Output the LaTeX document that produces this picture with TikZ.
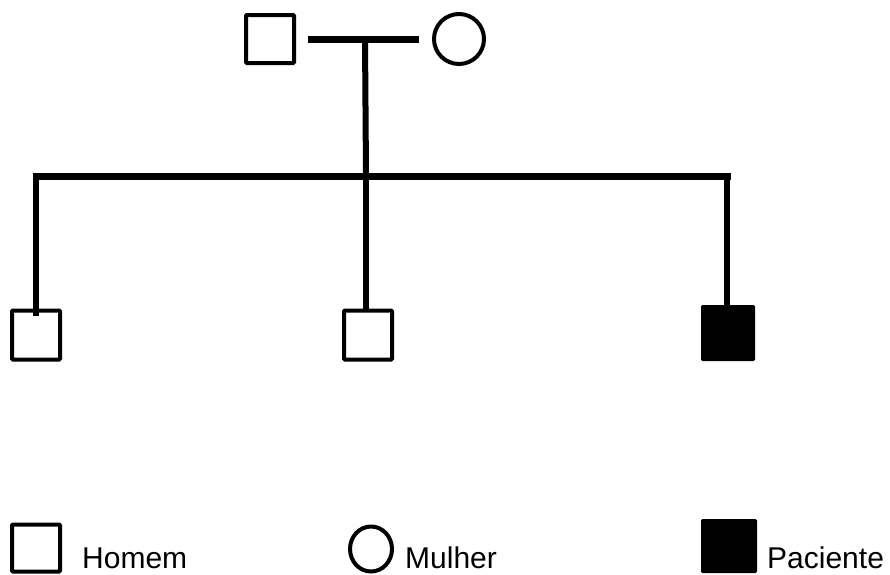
\documentclass[tikz,border=0pt]{standalone}
\usepackage{fontspec}
\setmainfont{Liberation Sans}
\usetikzlibrary{shapes.geometric}
\tikzset{
  male/.style={draw, line width=4pt, rectangle, rounded corners=1pt, inner sep=0pt, minimum width=48pt, minimum height=48pt},
  female/.style={draw, line width=4pt, circle, inner sep=0pt, minimum size=50pt},
  patient/.style={draw, fill=black, line width=1pt, rectangle, rounded corners=1pt, inner sep=0pt, minimum width=53pt, minimum height=55pt},
  link/.style={line width=7pt},
  desc/.style={line width=6pt},
  lbl/.style={anchor=base west, inner sep=0pt, font=\fontsize{30}{36}\selectfont}
}
\begin{document}
\begin{tikzpicture}[x=1pt,y=-1pt]
\useasboundingbox (0,0) rectangle (890,574);
% parents
\node[male] (f) at (270,39) {};
\node[female] (m) at (459,39) {};
\draw[link, shorten <=12pt, shorten >=13pt] (f.east) -- (m.west);
\coordinate (mid) at (365,38);
\coordinate (sibL) at (36,176);
\coordinate (sibR) at (727,176);
\coordinate (sibM) at (366,176);
% children
\node[male, minimum width=48pt, minimum height=49pt] (c1) at (36,335) {};
\node[male, minimum width=48pt, minimum height=49pt] (c2) at (368,335) {};
\node[patient] (c3) at (728,333) {};
\draw[link, line cap=rect] (sibL) -- (sibR);
\draw[desc] (mid) -- (sibM);
\draw[desc] (sibM) -- ([yshift=-2pt]c2.north -| sibM);
\draw[desc, line cap=rect] (sibL) -- ([yshift=-4pt]c1.north -| sibL);
\draw[desc, line cap=rect] (sibR) -- (c3.north -| sibR);
% legend
\node[male, minimum width=48pt, minimum height=47pt] (l1) at (36,548) {};
\node[lbl] (t1) at (82,568) {Homem};
\node[ellipse, draw, line width=4pt, inner sep=0pt, minimum width=42pt, minimum height=45pt] (l2) at (371,549) {};
\node[lbl] (t2) at (405,568) {Mulher};
\node[patient, minimum width=55pt, minimum height=53pt] (l3) at (729,546) {};
\node[lbl] (t3) at (767,568) {Paciente};
\end{tikzpicture}
\end{document}
